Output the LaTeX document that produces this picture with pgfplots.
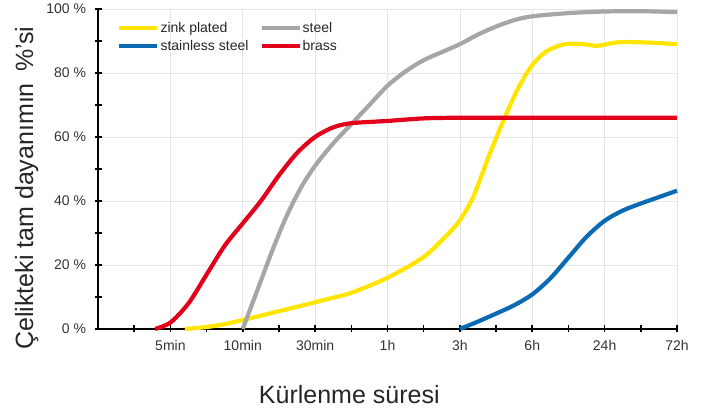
\documentclass[border=0pt]{standalone}
\usepackage{pgfplots}
\pgfplotsset{compat=1.18}
\usepackage{fontspec}
\setmainfont{Liberation Sans}
\definecolor{czink}{HTML}{FFE500}
\definecolor{csteel}{HTML}{A6A6A6}
\definecolor{cstain}{HTML}{0A6AB4}
\definecolor{cbrass}{HTML}{E2001A}
\begin{document}
\begin{tikzpicture}
\begin{axis}[
  scale only axis, width=579pt, height=320pt,
  xmin=0, xmax=8, ymin=0, ymax=100,
  axis lines=left, axis line style={line width=2.2pt, black, -},
  xtick={1,...,8},
  xticklabels={5min,10min,30min,1h,3h,6h,24h,72h},
  minor xtick={0.5,1.5,...,7.5},
  ytick={0,20,...,100},
  yticklabels={0 \%,20 \%,40 \%,60 \%,80 \%,100 \%},
  minor ytick={10,30,...,90},
  tick align=center,
  major tick length=7pt, minor tick length=7pt,
  every tick/.style={black, line width=1.6pt},
  grid=major, major grid style={black!10, line width=0.6pt},
  tick label style={font=\fontsize{14}{16}\selectfont, text=black!80},
  xticklabel style={yshift=-4pt},
  yticklabel style={xshift=-5pt},
  xlabel={Kürlenme süresi},
  ylabel={Çelikteki tam dayanımın\hspace{0.45em}\%’si},
  xlabel style={font=\fontsize{25}{28}\selectfont, text=black!85, at={(rel axis cs:0.434,-0.206)}, anchor=center},
  ylabel style={font=\fontsize{25}{28}\selectfont, text=black!85, at={(rel axis cs:-0.123,0.44)}, anchor=center, rotate=0},
  legend columns=2,
  legend cell align=left,
  legend image code/.code={\draw[#1] (0pt,0pt) -- (38pt,0pt);},
  legend style={draw=none, fill=none, at={(rel axis cs:0.033,0.962)}, anchor=north west,
    inner sep=0pt, font=\fontsize{14}{16}\selectfont, text=black!85,
    nodes={inner sep=1pt}, row sep=4pt,
    /tikz/every even column/.append style={column sep=10pt}},
  every axis plot/.append style={line width=4.2pt, smooth, no markers},
  clip=false,
]
\addplot[czink] coordinates {(1.2,0) (1.5,0.6) (1.75,1.5) (2,2.8) (2.4,5) (2.8,7.2) (3.2,9.5) (3.5,11.3) (4,16) (4.5,22.5) (4.85,30) (5,34) (5.18,41) (5.4,54) (5.6,65) (5.8,75) (6,82.5) (6.2,86.8) (6.45,89) (6.7,89) (6.9,88.5) (7.2,89.6) (7.6,89.5) (8,89)};
\addlegendentry{zink plated}
\addplot[csteel] coordinates {(2,0) (2.2,12) (2.4,24) (2.6,35) (2.8,44) (3,51) (3.25,58) (3.5,64) (3.75,70) (4,76) (4.25,80.5) (4.5,84) (4.75,86.5) (5,89) (5.25,92) (5.5,94.5) (5.75,96.5) (6,97.7) (6.5,98.7) (7,99.2) (7.5,99.3) (8,99)};
\addlegendentry{steel}
\addplot[cstain] coordinates {(5,0) (5.25,2.3) (5.5,4.8) (5.75,7.4) (6,10.8) (6.25,15.8) (6.5,22.3) (6.75,28.8) (7,33.8) (7.25,37) (7.5,39.2) (7.75,41.2) (8,43.2)};
\addlegendentry{stainless steel}
\addplot[cbrass] coordinates {(0.79,0) (1,2) (1.25,8) (1.5,17) (1.75,26) (2,33) (2.25,40) (2.5,48) (2.75,55) (3,60) (3.25,63) (3.5,64.3) (4,65) (4.5,65.8) (5,66) (6,66) (7,66) (8,66)};
\addlegendentry{brass}
\path (rel axis cs:-0.1693,-0.2656) rectangle (rel axis cs:1.0432,1.028);
\end{axis}
\end{tikzpicture}
\end{document}
